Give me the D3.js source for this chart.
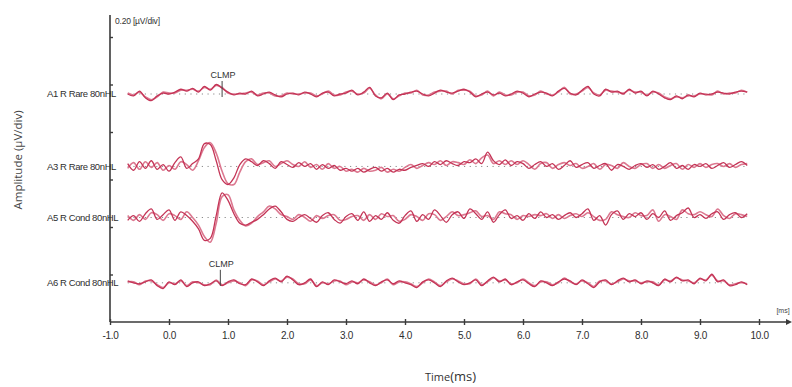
<!DOCTYPE html>
<html>
<head>
<meta charset="utf-8">
<script src="https://cdn.jsdelivr.net/npm/d3@7"></script>
<style>
  body { margin: 0; background: #fff; }
  svg { display: block; font-family: "Liberation Sans", Arial, sans-serif; }
</style>
</head>
<body>
<svg id="chart" width="792" height="387"></svg>
<script>
// time axis ticks (ms)
const xTicks = [-1, 0, 1, 2, 3, 4, 5, 6, 7, 8, 9, 10];
// amplitude ticks (uV), one per 0.20 uV division
const yTicks = [0.2, 0.4, 0.6, 0.8, 1.0, 1.2];

// recordings: first sample at -0.7 ms, one every 0.1 ms
const tStart = -0.7, tStep = 0.1;

const labels = ["A1 R Rare 80nHL", "A3 R Rare 80nHL", "A5 R Cond 80nHL", "A6 R Cond 80nHL"];
// vertical offset of each channel (uV above the time axis)
const offsets = [0.96, 0.655, 0.44, 0.165];
// CLMP marker latency (ms) on channels 0 and 3
const clmp = [{ ch: 0, t: 0.9 }, { ch: 3, t: 0.87 }];

// amplitudes in nV, two runs per channel
const a1a = [0,-8,12,-16,-28,-8,4,0, 8,20,12,24,8,32,16,40,24,8, -4,4,0,12,-8,0,8,-4,-12,0, 4,-4,8,0,-12,4,8,-8,0,4, 16,-4,8,28,-8,-16,4,-24,-4,0, 8,12,0,-8,4,16,8,4,12,20, 8,-12,0,8,-4,4,-8,0,12,4, -12,0,8,4,-8,12,24,4,-4,16, 32,0,-8,20,8,12,0,20,4,12, -8,12,0,-16,-24,-8,-20,-4,-12,4, -4,0,8,4,0,8,12,8];
const a1b = [4,-4,8,-12,-24,-12,8,4, 4,16,16,20,12,28,20,36,28,4, 0,0,4,8,-4,4,4,-8,-8,4, 0,0,4,4,-8,0,12,-4,-4,8, 12,0,4,24,-4,-20,0,-20,-8,4, 4,16,-4,-4,8,12,12,0,16,16, 12,-8,-4,12,-8,8,-4,-4,8,8, -8,-4,12,0,-4,8,28,0,0,12, 28,4,-4,16,12,8,4,16,8,8, -4,8,4,-12,-20,-12,-16,-8,-8,0, 0,-4,12,0,4,4,16,8];

const a3a = [12,-16,20,-8,24,-12,8,-20, 16,40,-8,12,32,96,92,24,-56,-76, -48,8,32,20,4,24,12,-8,20,8, -4,16,0,12,-12,8,-8,4,-16,-8, -20,-8,-24,-12,-4,-20,-8,-24,-12,-16, -4,4,12,0,20,8,24,12,4,20, 16,32,12,60,24,8,28,4,20,12, -8,8,20,0,12,-12,4,24,-4,8, 16,-8,4,12,-16,8,0,-12,4,12, -4,8,-12,0,16,-8,4,-12,8,0, 12,-8,4,16,-4,8,20,4];
const a3b = [-8,16,-12,20,-4,16,-16,4, -12,20,8,-16,24,80,100,56,-20,-72, -76,-24,20,32,8,16,24,0,12,24, 8,0,20,-4,8,-12,12,-8,0,-20, -12,-24,-8,-20,-16,-4,-24,-12,-20,-4, 8,-8,4,16,8,24,4,20,16,8, 28,12,36,48,12,24,8,24,8,24, 8,-12,12,16,-8,8,16,4,12,-8, 0,12,-12,8,4,-8,16,0,-8,8, 12,-8,8,-8,4,12,-12,8,-4,12, -4,8,12,0,12,-4,8,12];

const a5a = [-12,8,-16,16,36,-8,12,32, -12,24,8,-16,-48,-96,-88,8,104,72, 16,-24,-32,-20,-8,12,36,48,24,-8, -16,0,12,-4,-20,8,20,-8,-24,4, 16,-12,24,-16,8,-8,20,-12,-24,8, 28,-16,12,-8,32,8,-20,12,24,-4, 36,16,-8,24,-20,12,32,-4,8,-12, 16,-4,24,0,12,-8,8,20,0,16, 36,-12,8,-32,12,28,-8,16,4,20, -8,16,0,28,-12,8,20,40,0,12, -4,16,24,-8,12,20,0,16];
const a5b = [8,-12,12,-8,20,12,-12,16, 8,-8,24,0,-32,-80,-104,-24,88,96, 32,-12,-36,-24,4,24,48,36,12,4, -8,12,0,-16,8,-4,8,12,-12,-8, 4,8,-12,12,-8,16,4,8,-16,-8, 12,4,-12,16,12,-12,4,24,8,12, 20,28,4,8,-8,24,16,12,-8,8, 4,12,8,16,-4,12,-4,8,16,4, 20,4,-12,-8,24,12,4,0,20,8, 8,32,-16,12,4,-8,32,16,12,24, 12,4,36,8,-4,16,12,4];

const a6a = [8,0,-4,4,12,-12,-24,4, -8,12,-16,0,4,-12,-4,8,-12,4, 12,-4,-8,16,4,-12,8,20,4,28, 12,-8,0,16,-16,4,-8,12,4,-4, 8,-4,16,0,-12,4,12,-4,8,0, -8,-20,4,12,0,-16,8,20,4,-8, 0,12,-12,8,24,4,16,-8,4,12, -4,-16,8,0,-12,4,16,8,-8,12, -4,-20,4,12,-8,8,20,4,12,-4, 8,0,-12,16,4,24,8,12,-4,20, 8,36,4,12,-12,-8,4,-8];
const a6b = [4,4,-8,8,8,-8,-20,0, -4,8,-12,4,0,-8,-8,12,-8,0, 8,0,-12,12,8,-8,4,16,8,24, 16,-4,-4,12,-12,0,-4,8,8,-8, 4,0,12,4,-8,0,16,-8,4,4, -4,-16,0,16,4,-12,4,16,8,-4, -4,16,-8,4,20,8,12,-4,0,16, 0,-12,4,4,-8,0,20,4,-4,8, 0,-16,8,8,-4,4,16,8,8,0, 4,4,-8,12,8,20,12,8,0,16, 12,32,8,8,-8,-4,0,-4];

const runs = [[a1a, a1b], [a3a, a3b], [a5a, a5b], [a6a, a6b]];

const svg = d3.select("#chart");

const x = d3.scaleLinear().domain([-1, 10]).range([110, 759]);
const y = d3.scaleLinear().domain([0, 1.2]).range([322, 37]);

const ink = "#3a3a3a";

// time axis
svg.append("line")
  .attr("x1", x(-1)).attr("x2", 788)
  .attr("y1", y(0)).attr("y2", y(0))
  .attr("stroke", ink).attr("stroke-width", 1.6);
svg.append("path")
  .attr("d", "M792," + y(0) + "l-6,-3v6z")
  .attr("fill", ink);
const xAxis = svg.append("g")
  .attr("transform", "translate(0," + y(0) + ")")
  .call(d3.axisBottom(x).tickValues(xTicks)
    .tickFormat(d => d.toFixed(1))
    .tickSizeInner(3).tickSizeOuter(0));
xAxis.select(".domain").remove();
xAxis.selectAll(".tick line").attr("y1", -3).attr("stroke", ink).attr("stroke-width", 1.4);
xAxis.selectAll(".tick text").attr("dy", "1.05em").attr("font-size", 10).attr("fill", "#2e2e2e")
  .attr("font-family", "Liberation Sans, Arial, sans-serif").attr("letter-spacing", -0.3);

svg.append("text").attr("x", 783).attr("y", 313).attr("text-anchor", "middle")
  .attr("font-size", 7).attr("fill", "#444").text("[ms]");

// amplitude axis
svg.append("line")
  .attr("x1", x(-1)).attr("x2", x(-1))
  .attr("y1", 15).attr("y2", y(0))
  .attr("stroke", ink).attr("stroke-width", 1.6);
const yAxis = svg.append("g")
  .attr("transform", "translate(" + x(-1) + ",0)")
  .call(d3.axisLeft(y).tickValues(yTicks).tickFormat("").tickSizeInner(3).tickSizeOuter(0));
yAxis.select(".domain").remove();
yAxis.selectAll(".tick line").attr("x2", 3).attr("stroke", ink).attr("stroke-width", 1.4);

svg.append("text").attr("x", 115).attr("y", 24)
  .attr("font-size", 8.5).attr("fill", "#333").attr("letter-spacing", -0.2).text("0.20 [\u00b5V/div]");

// axis titles
svg.append("text")
  .attr("transform", "translate(22,160) rotate(-90)")
  .attr("text-anchor", "middle").attr("font-size", 11.5).attr("fill", "#444")
  .attr("font-family", "Open Sans, sans-serif")
  .text("Amplitude (\u00b5V/div)");
const tt = svg.append("text").attr("x", 425).attr("y", 381).attr("fill", "#333")
  .attr("font-family", "Open Sans, sans-serif");
tt.append("tspan").attr("font-size", 11).text("Time");
tt.append("tspan").attr("font-size", 13).text("(ms)");

// channels
const line = d3.line()
  .x((d, i) => x(tStart + i * tStep))
  .curve(d3.curveCatmullRom.alpha(0.5));
const tEnd = tStart + (a1a.length - 1) * tStep;

runs.forEach((pair, c) => {
  const base = offsets[c];
  line.y(d => y(base + d / 1000));

  svg.append("line")
    .attr("x1", x(tStart)).attr("x2", x(tEnd))
    .attr("y1", y(base)).attr("y2", y(base))
    .attr("stroke", "#8a8a8a").attr("stroke-width", 1)
    .attr("stroke-dasharray", "1.2,4.5");

  svg.append("path").datum(pair[1])
    .attr("d", line).attr("fill", "none")
    .attr("stroke", "#dc7890").attr("stroke-width", 1.6);
  svg.append("path").datum(pair[0])
    .attr("d", line).attr("fill", "none")
    .attr("stroke", "#c43456").attr("stroke-width", 1.3);

  svg.append("text")
    .attr("x", 47).attr("y", y(base)).attr("dy", "0.35em")
    .attr("font-size", 9.5).attr("fill", "#2e2e2e").attr("letter-spacing", -0.4)
    .text(labels[c]);
});

// CLMP markers
clmp.forEach(m => {
  const yb = y(offsets[m.ch]);
  svg.append("line")
    .attr("x1", x(m.t)).attr("x2", x(m.t))
    .attr("y1", yb - 13).attr("y2", yb + 3)
    .attr("stroke", "#444").attr("stroke-width", 1);
  svg.append("text")
    .attr("x", x(m.t) + 1).attr("y", yb - 16).attr("text-anchor", "middle")
    .attr("font-size", 9).attr("fill", "#333").text("CLMP");
});
</script>
</body>
</html>
